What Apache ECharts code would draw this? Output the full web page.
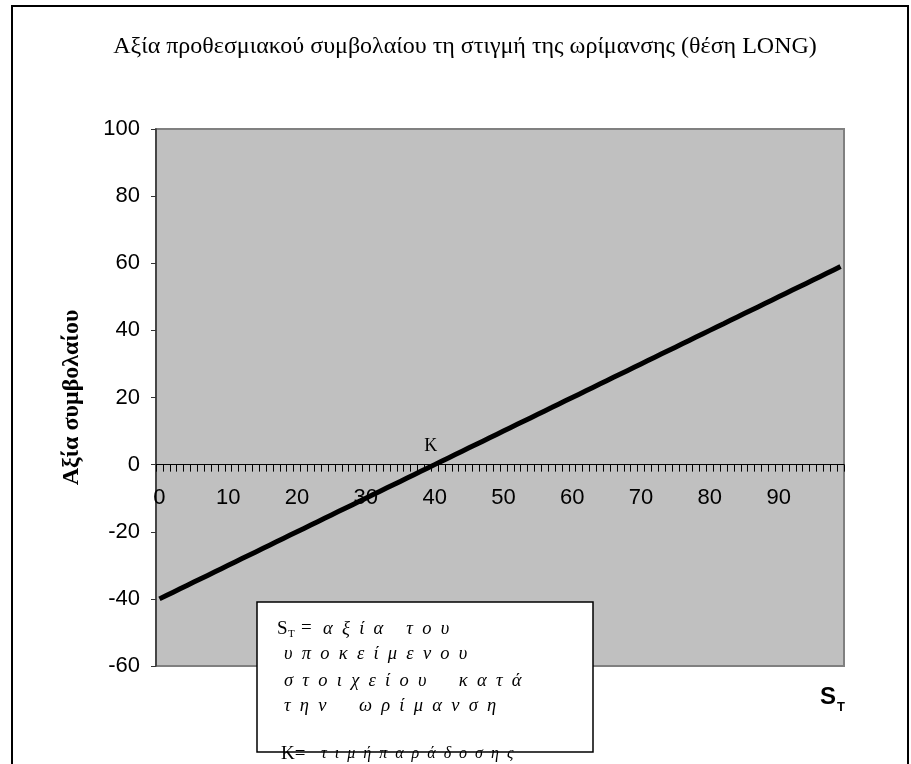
<!DOCTYPE html>
<html>
<head>
<meta charset="utf-8">
<style>
  html, body { margin: 0; padding: 0; background: #ffffff; }
  #chart { width: 911px; height: 764px; }
</style>
<script src="https://cdn.jsdelivr.net/npm/echarts@6/dist/echarts.min.js"></script>
</head>
<body>
<div id="chart"></div>
<script>
// Underlying price at maturity (S_T), one category per unit
const spotPrices = [
  0, 1, 2, 3, 4, 5, 6, 7, 8, 9,
  10, 11, 12, 13, 14, 15, 16, 17, 18, 19,
  20, 21, 22, 23, 24, 25, 26, 27, 28, 29,
  30, 31, 32, 33, 34, 35, 36, 37, 38, 39,
  40, 41, 42, 43, 44, 45, 46, 47, 48, 49,
  50, 51, 52, 53, 54, 55, 56, 57, 58, 59,
  60, 61, 62, 63, 64, 65, 66, 67, 68, 69,
  70, 71, 72, 73, 74, 75, 76, 77, 78, 79,
  80, 81, 82, 83, 84, 85, 86, 87, 88, 89,
  90, 91, 92, 93, 94, 95, 96, 97, 98, 99
];

// Value of the long forward position at maturity
const contractValues = [
  -40, -39, -38, -37, -36, -35, -34, -33, -32, -31,
  -30, -29, -28, -27, -26, -25, -24, -23, -22, -21,
  -20, -19, -18, -17, -16, -15, -14, -13, -12, -11,
  -10, -9, -8, -7, -6, -5, -4, -3, -2, -1,
  0, 1, 2, 3, 4, 5, 6, 7, 8, 9,
  10, 11, 12, 13, 14, 15, 16, 17, 18, 19,
  20, 21, 22, 23, 24, 25, 26, 27, 28, 29,
  30, 31, 32, 33, 34, 35, 36, 37, 38, 39,
  40, 41, 42, 43, 44, 45, 46, 47, 48, 49,
  50, 51, 52, 53, 54, 55, 56, 57, 58, 59
];

// Delivery price K
const deliveryPrice = 40;

// Value-axis range and step
const yRange = { min: -60, max: 100, step: 20 };

const titleText = 'Αξία προθεσμιακού συμβολαίου τη στιγμή της ωρίμανσης (θέση LONG)';
const yAxisTitle = 'Αξία συμβολαίου';

// Note box wording: spot price and delivery price definitions
const noteLines = [
  ['αξία', 'του'],
  ['υποκείμενου'],
  ['στοιχείου', 'κατά'],
  ['την', 'ωρίμανση']
];
const noteK = ['τιμή', 'παράδοσης'];

const SERIF = '"Liberation Serif", "Times New Roman", serif';
const SANS = '"Liberation Sans", Arial, sans-serif';

// Letter-spaced text: two spaces between letters, `gap` spaces between words
function spaced(words, gap) {
  return words.map(w => w.split('').join('  ')).join(' '.repeat(gap));
}

const chart = echarts.init(document.getElementById('chart'), null, { renderer: 'canvas' });

const greek = 'italic 18.5px ' + SERIF;
const noteChildren = [
  { type: 'rect', shape: { x: 0, y: 0, width: 336, height: 150 },
    style: { fill: '#ffffff', stroke: '#000000', lineWidth: 1.5 } },
  { type: 'text', x: 20, y: 27, style: { text: 'S', font: '19px ' + SERIF, fill: '#000', textVerticalAlign: 'middle' } },
  { type: 'text', x: 31, y: 32, style: { text: 'T', font: '11px ' + SERIF, fill: '#000', textVerticalAlign: 'middle' } },
  { type: 'text', x: 44, y: 26, style: { text: '=', font: '19px ' + SERIF, fill: '#000', textVerticalAlign: 'middle' } },
  { type: 'text', x: 66, y: 27, style: { text: spaced(noteLines[0], 5), font: greek, fill: '#000', textVerticalAlign: 'middle' } },
  { type: 'text', x: 27, y: 52, style: { text: spaced(noteLines[1], 5), font: greek, fill: '#000', textVerticalAlign: 'middle' } },
  { type: 'text', x: 27, y: 79, style: { text: spaced(noteLines[2], 7), font: greek, fill: '#000', textVerticalAlign: 'middle' } },
  { type: 'text', x: 27, y: 104, style: { text: spaced(noteLines[3], 7), font: greek, fill: '#000', textVerticalAlign: 'middle' } },
  { type: 'text', x: 24, y: 152, style: { text: 'K=', font: '19px ' + SERIF, fill: '#000', textVerticalAlign: 'middle' } },
  { type: 'text', x: 64, y: 152, style: { text: spaced(noteK, 2), font: 'italic 16px ' + SERIF, fill: '#000', textVerticalAlign: 'middle' } }
];

const gridBox = { left: 156, top: 129, right: 67, bottom: 98 };

const option = {
  animation: false,
  backgroundColor: '#ffffff',
  grid: {
    left: gridBox.left, top: gridBox.top, right: gridBox.right, bottom: gridBox.bottom,
    show: true,
    backgroundColor: '#c0c0c0',
    borderColor: '#808080',
    borderWidth: 2
  },
  xAxis: {
    type: 'category',
    data: spotPrices.map(String),
    boundaryGap: true,
    axisLine: { onZero: false, lineStyle: { color: '#000000', width: 1 } },
    axisTick: { show: true, interval: 0, length: 7, inside: false, lineStyle: { color: '#000000', width: 1 } },
    axisLabel: { interval: 9, margin: 22, color: '#000000', fontFamily: SANS, fontSize: 22 },
    splitLine: { show: false }
  },
  yAxis: {
    type: 'value',
    min: yRange.min, max: yRange.max, interval: yRange.step,
    name: yAxisTitle,
    nameLocation: 'middle',
    nameRotate: 90,
    nameGap: 72,
    nameTextStyle: { fontFamily: SERIF, fontWeight: 'bold', fontSize: 24, color: '#000000' },
    axisLine: { show: true, lineStyle: { color: '#333333', width: 1.5 } },
    axisTick: { show: true, length: 5, lineStyle: { color: '#333333' } },
    axisLabel: { margin: 16, color: '#000000', fontFamily: SANS, fontSize: 22 },
    splitLine: { show: false }
  },
  series: [{
    type: 'line',
    data: contractValues,
    symbol: 'none',
    lineStyle: { color: '#000000', width: 5 },
    z: 5,
    markPoint: {
      symbol: 'circle',
      symbolSize: 1,
      itemStyle: { color: 'rgba(0,0,0,0)' },
      label: {
        show: true, position: 'top', distance: 9, offset: [-4, 0],
        formatter: 'K', color: '#000000', fontFamily: SERIF, fontSize: 18
      },
      data: [{ coord: [String(deliveryPrice), 0] }]
    }
  }],
  graphic: [
    { type: 'rect', z: 0, silent: true,
      shape: { x: 12, y: 6, width: 896, height: 900 },
      style: { fill: 'none', stroke: '#000000', lineWidth: 2 } },
    { type: 'text', z: 10, x: 465, y: 47,
      style: { text: titleText, font: '24px ' + SERIF, fill: '#000000', textAlign: 'center', textVerticalAlign: 'middle' } },
    { type: 'text', z: 10, x: 820, y: 697,
      style: { text: 'S', font: 'bold 24px ' + SANS, fill: '#000000', textVerticalAlign: 'middle' } },
    { type: 'text', z: 10, x: 837, y: 707,
      style: { text: 'T', font: 'bold 13px ' + SANS, fill: '#000000', textVerticalAlign: 'middle' } },
    { type: 'group', z: 20, x: 257, y: 602, children: noteChildren }
  ]
};

chart.setOption(option);

// Move the category axis (line, ticks and labels) up to the value 0
const zeroY = chart.convertToPixel({ yAxisIndex: 0 }, 0);
const gridBottomY = chart.getHeight() - gridBox.bottom;
chart.setOption({ xAxis: { offset: zeroY - gridBottomY } });
</script>
</body>
</html>
